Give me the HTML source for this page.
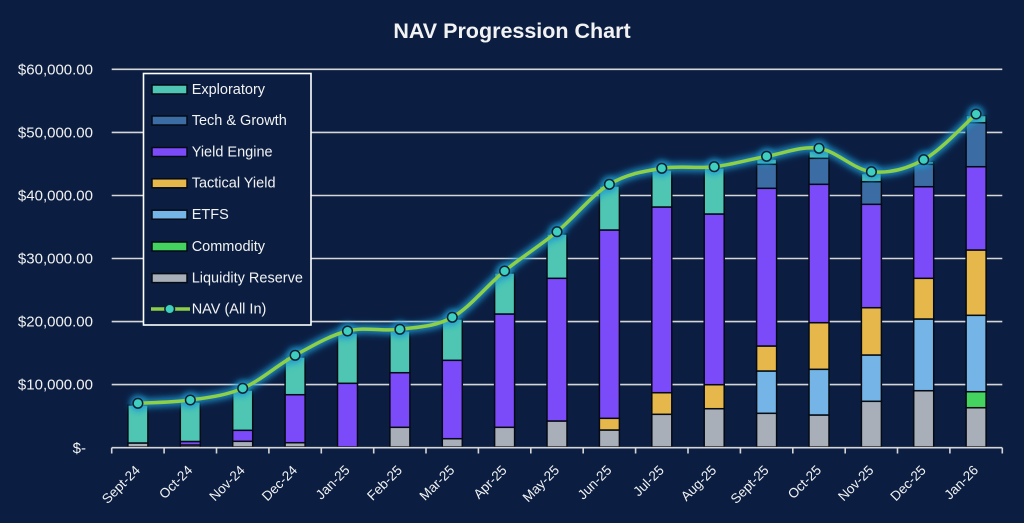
<!DOCTYPE html>
<html>
<head>
<meta charset="utf-8">
<style>
  html,body{margin:0;padding:0;background:#0B1E42;}
  svg{display:block;}
  text{font-family:"Liberation Sans",Arial,sans-serif;fill:#F2F2F2;}
</style>
</head>
<body>
<svg width="1024" height="523" viewBox="0 0 1024 523" xmlns="http://www.w3.org/2000/svg">
  <defs>
    <filter id="glow" x="-10%" y="-30%" width="120%" height="160%">
      <feGaussianBlur stdDeviation="3.2"/>
    </filter>
  </defs>
  <rect x="0" y="0" width="1024" height="523" fill="#0B1E42"/>

  <!-- Title -->
  <text x="512" y="31" text-anchor="middle" dominant-baseline="central" font-size="21.5" font-weight="bold" fill="#FFFFFF">NAV Progression Chart</text>

  <!-- Gridlines -->
  <g stroke="#D6D6D6" stroke-width="1.6">
    <line x1="111.7" y1="69.3" x2="1002.3" y2="69.3"/>
    <line x1="111.7" y1="132.4" x2="1002.3" y2="132.4"/>
    <line x1="111.7" y1="195.5" x2="1002.3" y2="195.5"/>
    <line x1="111.7" y1="258.5" x2="1002.3" y2="258.5"/>
    <line x1="111.7" y1="321.6" x2="1002.3" y2="321.6"/>
    <line x1="111.7" y1="384.6" x2="1002.3" y2="384.6"/>
  </g>

  <!-- Y labels -->
  <g font-size="15" text-anchor="end" dominant-baseline="central">
    <text x="93" y="69.8">$60,000.00</text>
    <text x="93" y="132.9">$50,000.00</text>
    <text x="93" y="196">$40,000.00</text>
    <text x="93" y="259">$30,000.00</text>
    <text x="93" y="322.1">$20,000.00</text>
    <text x="93" y="385.1">$10,000.00</text>
    <text x="86" y="448.3">$-</text>
  </g>

  <!-- Bars -->
  <g stroke="#050A14" stroke-width="1.5">
    <!-- Sept-24 -->
    <rect x="127.9" y="443" width="20" height="4" fill="#A8AFB8"/>
    <rect x="127.9" y="405" width="20" height="38" fill="#4EC6B3"/>
    <!-- Oct-24 -->
    <rect x="180.3" y="445" width="20" height="2" fill="#A8AFB8"/>
    <rect x="180.3" y="441.5" width="20" height="3.5" fill="#7B4BFA"/>
    <rect x="180.3" y="402" width="20" height="39.5" fill="#4EC6B3"/>
    <!-- Nov-24 -->
    <rect x="232.7" y="441.3" width="20" height="5.7" fill="#A8AFB8"/>
    <rect x="232.7" y="430.3" width="20" height="11" fill="#7B4BFA"/>
    <rect x="232.7" y="390" width="20" height="40.3" fill="#4EC6B3"/>
    <!-- Dec-24 -->
    <rect x="285.1" y="442.7" width="20" height="4.3" fill="#A8AFB8"/>
    <rect x="285.1" y="394.7" width="20" height="48" fill="#7B4BFA"/>
    <rect x="285.1" y="357" width="20" height="37.7" fill="#4EC6B3"/>
    <!-- Jan-25 -->
    <rect x="337.5" y="383.3" width="20" height="63.7" fill="#7B4BFA"/>
    <rect x="337.5" y="333" width="20" height="50.3" fill="#4EC6B3"/>
    <!-- Feb-25 -->
    <rect x="389.9" y="427.3" width="20" height="19.7" fill="#A8AFB8"/>
    <rect x="389.9" y="372.7" width="20" height="54.6" fill="#7B4BFA"/>
    <rect x="389.9" y="331" width="20" height="41.7" fill="#4EC6B3"/>
    <!-- Mar-25 -->
    <rect x="442.3" y="438.7" width="20" height="8.3" fill="#A8AFB8"/>
    <rect x="442.3" y="360.3" width="20" height="78.4" fill="#7B4BFA"/>
    <rect x="442.3" y="319" width="20" height="41.3" fill="#4EC6B3"/>
    <!-- Apr-25 -->
    <rect x="494.6" y="427.3" width="20" height="19.7" fill="#A8AFB8"/>
    <rect x="494.6" y="314" width="20" height="113.3" fill="#7B4BFA"/>
    <rect x="494.6" y="273" width="20" height="41" fill="#4EC6B3"/>
    <!-- May-25 -->
    <rect x="547" y="421" width="20" height="26" fill="#A8AFB8"/>
    <rect x="547" y="278.3" width="20" height="142.7" fill="#7B4BFA"/>
    <rect x="547" y="234" width="20" height="44.3" fill="#4EC6B3"/>
    <!-- Jun-25 -->
    <rect x="599.4" y="430" width="20" height="17" fill="#A8AFB8"/>
    <rect x="599.4" y="418.3" width="20" height="11.7" fill="#E6B84B"/>
    <rect x="599.4" y="230" width="20" height="188.3" fill="#7B4BFA"/>
    <rect x="599.4" y="186" width="20" height="44" fill="#4EC6B3"/>
    <!-- Jul-25 -->
    <rect x="651.8" y="414.3" width="20" height="32.7" fill="#A8AFB8"/>
    <rect x="651.8" y="392.7" width="20" height="21.6" fill="#E6B84B"/>
    <rect x="651.8" y="207" width="20" height="185.7" fill="#7B4BFA"/>
    <rect x="651.8" y="170" width="20" height="37" fill="#4EC6B3"/>
    <!-- Aug-25 -->
    <rect x="704.2" y="408.7" width="20" height="38.3" fill="#A8AFB8"/>
    <rect x="704.2" y="384.7" width="20" height="24" fill="#E6B84B"/>
    <rect x="704.2" y="214" width="20" height="170.7" fill="#7B4BFA"/>
    <rect x="704.2" y="168" width="20" height="46" fill="#4EC6B3"/>
    <!-- Sept-25 -->
    <rect x="756.6" y="413.3" width="20" height="33.7" fill="#A8AFB8"/>
    <rect x="756.6" y="371" width="20" height="42.3" fill="#74B4E6"/>
    <rect x="756.6" y="346" width="20" height="25" fill="#E6B84B"/>
    <rect x="756.6" y="188.3" width="20" height="157.7" fill="#7B4BFA"/>
    <rect x="756.6" y="164.3" width="20" height="24" fill="#3B6CA3"/>
    <rect x="756.6" y="159" width="20" height="5.3" fill="#4EC6B3"/>
    <!-- Oct-25 -->
    <rect x="809" y="415" width="20" height="32" fill="#A8AFB8"/>
    <rect x="809" y="369.3" width="20" height="45.7" fill="#74B4E6"/>
    <rect x="809" y="322.7" width="20" height="46.6" fill="#E6B84B"/>
    <rect x="809" y="184.3" width="20" height="138.4" fill="#7B4BFA"/>
    <rect x="809" y="158.3" width="20" height="26" fill="#3B6CA3"/>
    <rect x="809" y="151" width="20" height="7.3" fill="#4EC6B3"/>
    <!-- Nov-25 -->
    <rect x="861.4" y="401.3" width="20" height="45.7" fill="#A8AFB8"/>
    <rect x="861.4" y="355" width="20" height="46.3" fill="#74B4E6"/>
    <rect x="861.4" y="307.7" width="20" height="47.3" fill="#E6B84B"/>
    <rect x="861.4" y="204.3" width="20" height="103.4" fill="#7B4BFA"/>
    <rect x="861.4" y="181.7" width="20" height="22.6" fill="#3B6CA3"/>
    <rect x="861.4" y="173.5" width="20" height="8.2" fill="#4EC6B3"/>
    <!-- Dec-25 -->
    <rect x="913.7" y="390.7" width="20" height="56.3" fill="#A8AFB8"/>
    <rect x="913.7" y="319" width="20" height="71.7" fill="#74B4E6"/>
    <rect x="913.7" y="278.3" width="20" height="40.7" fill="#E6B84B"/>
    <rect x="913.7" y="186.7" width="20" height="91.6" fill="#7B4BFA"/>
    <rect x="913.7" y="164.3" width="20" height="22.4" fill="#3B6CA3"/>
    <rect x="913.7" y="161.5" width="20" height="2.8" fill="#4EC6B3"/>
    <!-- Jan-26 -->
    <rect x="966.1" y="407.7" width="20" height="39.3" fill="#A8AFB8"/>
    <rect x="966.1" y="391.7" width="20" height="16" fill="#45D35F"/>
    <rect x="966.1" y="315.3" width="20" height="76.4" fill="#74B4E6"/>
    <rect x="966.1" y="250" width="20" height="65.3" fill="#E6B84B"/>
    <rect x="966.1" y="166.7" width="20" height="83.3" fill="#7B4BFA"/>
    <rect x="966.1" y="122.7" width="20" height="44" fill="#3B6CA3"/>
    <rect x="966.1" y="115.5" width="20" height="7.2" fill="#4EC6B3"/>
  </g>

  <!-- X axis -->
  <g stroke="#D6D6D6" stroke-width="1.6">
    <line x1="111.7" y1="447.7" x2="1002.3" y2="447.7"/>
    <line x1="111.7" y1="447.7" x2="111.7" y2="453.5"/>
    <line x1="164.1" y1="447.7" x2="164.1" y2="453.5"/>
    <line x1="216.5" y1="447.7" x2="216.5" y2="453.5"/>
    <line x1="268.9" y1="447.7" x2="268.9" y2="453.5"/>
    <line x1="321.3" y1="447.7" x2="321.3" y2="453.5"/>
    <line x1="373.7" y1="447.7" x2="373.7" y2="453.5"/>
    <line x1="426.0" y1="447.7" x2="426.0" y2="453.5"/>
    <line x1="478.4" y1="447.7" x2="478.4" y2="453.5"/>
    <line x1="530.8" y1="447.7" x2="530.8" y2="453.5"/>
    <line x1="583.2" y1="447.7" x2="583.2" y2="453.5"/>
    <line x1="635.6" y1="447.7" x2="635.6" y2="453.5"/>
    <line x1="688.0" y1="447.7" x2="688.0" y2="453.5"/>
    <line x1="740.4" y1="447.7" x2="740.4" y2="453.5"/>
    <line x1="792.8" y1="447.7" x2="792.8" y2="453.5"/>
    <line x1="845.2" y1="447.7" x2="845.2" y2="453.5"/>
    <line x1="897.5" y1="447.7" x2="897.5" y2="453.5"/>
    <line x1="949.9" y1="447.7" x2="949.9" y2="453.5"/>
    <line x1="1002.3" y1="447.7" x2="1002.3" y2="453.5"/>
  </g>

  <!-- X labels -->
  <g font-size="13.5" text-anchor="end">
    <text transform="translate(141,471) rotate(-45)">Sept-24</text>
    <text transform="translate(193.3,471) rotate(-45)">Oct-24</text>
    <text transform="translate(245.7,471) rotate(-45)">Nov-24</text>
    <text transform="translate(298.1,471) rotate(-45)">Dec-24</text>
    <text transform="translate(350.5,471) rotate(-45)">Jan-25</text>
    <text transform="translate(402.9,471) rotate(-45)">Feb-25</text>
    <text transform="translate(455.3,471) rotate(-45)">Mar-25</text>
    <text transform="translate(507.6,471) rotate(-45)">Apr-25</text>
    <text transform="translate(560,471) rotate(-45)">May-25</text>
    <text transform="translate(612.4,471) rotate(-45)">Jun-25</text>
    <text transform="translate(664.8,471) rotate(-45)">Jul-25</text>
    <text transform="translate(717.2,471) rotate(-45)">Aug-25</text>
    <text transform="translate(769.6,471) rotate(-45)">Sept-25</text>
    <text transform="translate(822,471) rotate(-45)">Oct-25</text>
    <text transform="translate(874.4,471) rotate(-45)">Nov-25</text>
    <text transform="translate(926.7,471) rotate(-45)">Dec-25</text>
    <text transform="translate(979.1,471) rotate(-45)">Jan-26</text>
  </g>

  <!-- NAV line glow -->
  <path id="navpath" filter="url(#glow)" fill="none" stroke="#1C9AD2" stroke-width="9" stroke-opacity="0.85" stroke-linecap="round"
    d="M137.9,403.3 C146.6,402.75 172.8,402.5 190.3,400 C207.8,397.5 225.2,395.75 242.7,388.3 C260.2,380.85 277.6,364.85 295.1,355.3 C312.6,345.75 330.0,335.33 347.5,331 C365.0,326.67 382.4,331.58 399.9,329.3 C417.4,327.02 434.8,327.02 452.3,317.3 C469.8,307.58 487.1,285.27 504.6,271 C522.1,256.73 539.5,246.15 557.0,231.7 C574.5,217.25 591.9,194.87 609.4,184.3 C626.9,173.73 644.3,171.23 661.8,168.3 C679.3,165.37 696.7,168.7 714.2,166.7 C731.7,164.7 749.1,159.37 766.6,156.3 C784.1,153.23 801.5,145.73 819.0,148.3 C836.5,150.87 853.9,169.8 871.4,171.7 C888.9,173.6 906.2,169.32 923.7,159.7 C941.2,150.08 967.4,121.62 976.1,114"/>
  <g filter="url(#glow)" fill="#1C9AD2" fill-opacity="0.85">
    <circle cx="137.9" cy="403.3" r="8"/><circle cx="190.3" cy="400" r="8"/><circle cx="242.7" cy="388.3" r="8"/>
    <circle cx="295.1" cy="355.3" r="8"/><circle cx="347.5" cy="331" r="8"/><circle cx="399.9" cy="329.3" r="8"/>
    <circle cx="452.3" cy="317.3" r="8"/><circle cx="504.6" cy="271" r="8"/><circle cx="557" cy="231.7" r="8"/>
    <circle cx="609.4" cy="184.3" r="8"/><circle cx="661.8" cy="168.3" r="8"/><circle cx="714.2" cy="166.7" r="8"/>
    <circle cx="766.6" cy="156.3" r="8"/><circle cx="819" cy="148.3" r="8"/><circle cx="871.4" cy="171.7" r="8"/>
    <circle cx="923.7" cy="159.7" r="8"/><circle cx="976.1" cy="114" r="8"/>
  </g>

  <!-- NAV line -->
  <path fill="none" stroke="#8DCF47" stroke-width="3.5" stroke-linecap="round"
    d="M137.9,403.3 C146.6,402.75 172.8,402.5 190.3,400 C207.8,397.5 225.2,395.75 242.7,388.3 C260.2,380.85 277.6,364.85 295.1,355.3 C312.6,345.75 330.0,335.33 347.5,331 C365.0,326.67 382.4,331.58 399.9,329.3 C417.4,327.02 434.8,327.02 452.3,317.3 C469.8,307.58 487.1,285.27 504.6,271 C522.1,256.73 539.5,246.15 557.0,231.7 C574.5,217.25 591.9,194.87 609.4,184.3 C626.9,173.73 644.3,171.23 661.8,168.3 C679.3,165.37 696.7,168.7 714.2,166.7 C731.7,164.7 749.1,159.37 766.6,156.3 C784.1,153.23 801.5,145.73 819.0,148.3 C836.5,150.87 853.9,169.8 871.4,171.7 C888.9,173.6 906.2,169.32 923.7,159.7 C941.2,150.08 967.4,121.62 976.1,114"/>

  <!-- Markers -->
  <g fill="#3FCFC0" stroke="#0B2233" stroke-width="1.5">
    <circle cx="137.9" cy="403.3" r="4.8"/><circle cx="190.3" cy="400" r="4.8"/><circle cx="242.7" cy="388.3" r="4.8"/>
    <circle cx="295.1" cy="355.3" r="4.8"/><circle cx="347.5" cy="331" r="4.8"/><circle cx="399.9" cy="329.3" r="4.8"/>
    <circle cx="452.3" cy="317.3" r="4.8"/><circle cx="504.6" cy="271" r="4.8"/><circle cx="557" cy="231.7" r="4.8"/>
    <circle cx="609.4" cy="184.3" r="4.8"/><circle cx="661.8" cy="168.3" r="4.8"/><circle cx="714.2" cy="166.7" r="4.8"/>
    <circle cx="766.6" cy="156.3" r="4.8"/><circle cx="819" cy="148.3" r="4.8"/><circle cx="871.4" cy="171.7" r="4.8"/>
    <circle cx="923.7" cy="159.7" r="4.8"/><circle cx="976.1" cy="114" r="4.8"/>
  </g>

  <!-- Legend -->
  <rect x="143.5" y="73.5" width="167.5" height="251.5" fill="#0B1E42" stroke="#FFFFFF" stroke-width="1.6"/>
  <g stroke="#050A14" stroke-width="1.5">
    <rect x="152" y="85" width="35" height="9" fill="#4EC6B3"/>
    <rect x="152" y="116" width="35" height="9" fill="#3B6CA3"/>
    <rect x="152" y="147.5" width="35" height="9" fill="#7B4BFA"/>
    <rect x="152" y="178.8" width="35" height="9" fill="#E6B84B"/>
    <rect x="152" y="210.2" width="35" height="9" fill="#74B4E6"/>
    <rect x="152" y="242" width="35" height="9" fill="#45D35F"/>
    <rect x="152" y="273.6" width="35" height="9" fill="#A8AFB8"/>
  </g>
  <line x1="151" y1="309" x2="190" y2="309" stroke="#8DCF47" stroke-width="3.5"/>
  <circle cx="169.7" cy="309" r="4.8" fill="#3FCFC0" stroke="#0B2233" stroke-width="1.5"/>
  <g font-size="14.5" dominant-baseline="central">
    <text x="191.7" y="90">Exploratory</text>
    <text x="191.7" y="121">Tech &amp; Growth</text>
    <text x="191.7" y="152.5">Yield Engine</text>
    <text x="191.7" y="183.5">Tactical Yield</text>
    <text x="191.7" y="215">ETFS</text>
    <text x="191.7" y="247">Commodity</text>
    <text x="191.7" y="278.5">Liquidity Reserve</text>
    <text x="191.7" y="309.5">NAV (All In)</text>
  </g>
</svg>
</body>
</html>
